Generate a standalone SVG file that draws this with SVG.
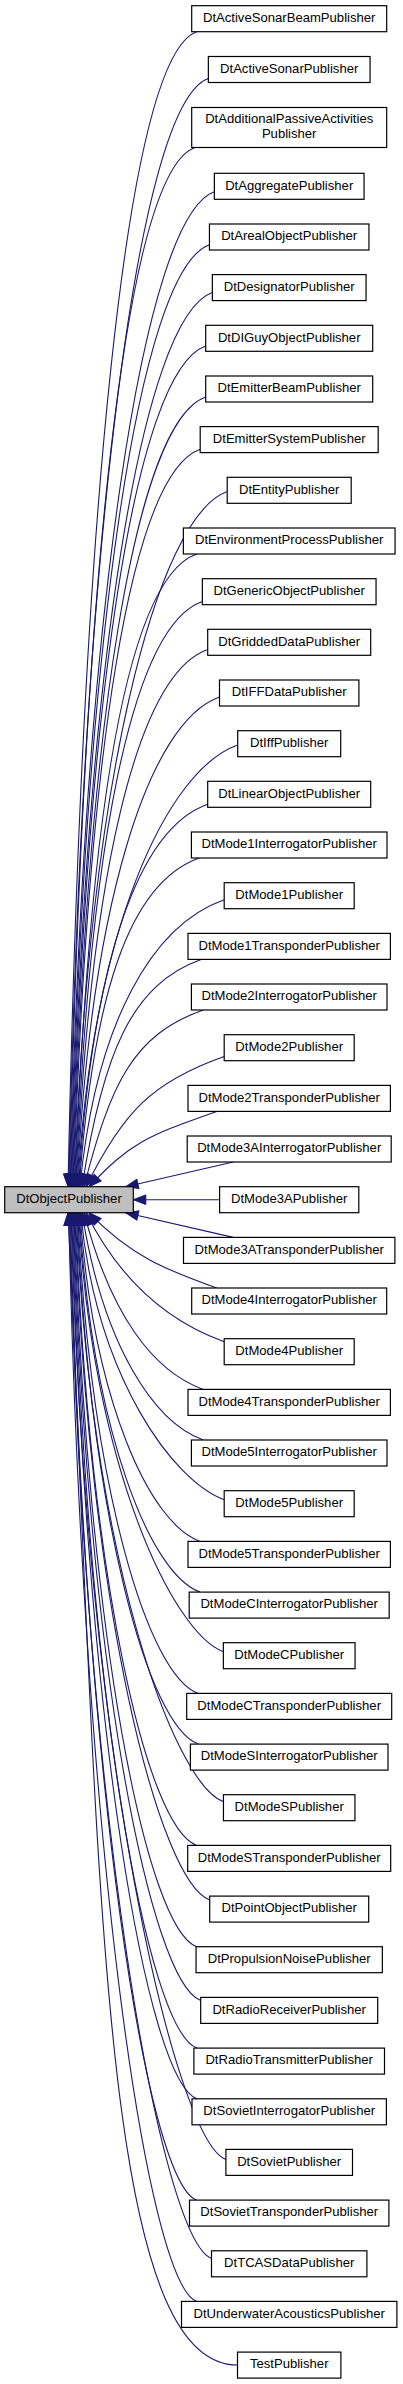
<svg xmlns="http://www.w3.org/2000/svg" width="403" height="2384" viewBox="0 0 403 2384">
<style>
.node rect{fill:#fff;stroke:#000;stroke-width:1.2}
.node.root rect{fill:#bfbfbf}
.node text{font-family:"Liberation Sans",Arial,Helvetica,sans-serif;font-size:13.1px;text-anchor:middle;fill:#000}
.edge{fill:none;stroke:#191970;stroke-width:1.1;marker-start:url(#arr)}
</style>
<defs>
<marker id="arr" markerUnits="userSpaceOnUse" markerWidth="14" markerHeight="12" refX="13" refY="6" orient="auto-start-reverse" overflow="visible">
<path d="M0.5,1.2 L13,6 L0.5,10.8 z" fill="#191970" stroke="#191970" stroke-width="1"/>
</marker>
</defs>
<rect width="403" height="2384" fill="#fff"/>
<g id="connectors">
<path class="edge" d="M68,1186.7 C82,516.8 125.7,56.7 196.7,31.7"/>
<path class="edge" d="M68.7,1186.7 C82.7,543.9 137.3,103.5 208.3,78.5"/>
<path class="edge" d="M69.4,1186.7 C83.4,584 124,172.5 195,147.5"/>
<path class="edge" d="M70.1,1186.7 C84.1,609.6 143.3,216.7 214.3,191.7"/>
<path class="edge" d="M70.8,1186.7 C84.8,640.3 138.5,269.7 209.5,244.7"/>
<path class="edge" d="M71.5,1186.7 C85.5,668.1 141.3,317.6 212.3,292.6"/>
<path class="edge" d="M72.2,1186.7 C86.2,699.1 134.7,371 205.7,346"/>
<path class="edge" d="M72.9,1186.7 C86.9,728.7 134.7,422 205.7,397"/>
<path class="edge" d="M73.6,1186.7 C87.6,759 129.3,474.3 200.3,449.3"/>
<path class="edge" d="M74.3,1186.7 C88.3,783.5 156.3,516.6 227.3,491.6"/>
<path class="edge" d="M75,1186.7 C89,819.7 125.7,579 196.7,554"/>
<path class="edge" d="M75.7,1186.7 C89.7,847.2 131.3,626.4 202.3,601.4"/>
<path class="edge" d="M76.4,1186.7 C90.4,875.1 136.7,674.5 207.7,649.5"/>
<path class="edge" d="M77.1,1186.7 C91.1,902.7 148.5,722 219.5,697"/>
<path class="edge" d="M77.8,1186.7 C91.8,930.5 166.7,770 237.7,745"/>
<path class="edge" d="M78.5,1186.7 C92.5,964.9 136.7,829.3 207.7,804.3"/>
<path class="edge" d="M79.2,1186.7 C93.2,996.1 128.3,883 199.3,858"/>
<path class="edge" d="M79.9,1186.7 C96.2,1020.2 153.2,924.7 224.2,899.7"/>
<path class="edge" d="M82,1186.7 C102.7,1054.8 130.7,984.3 201.7,959.3"/>
<path class="edge" d="M84,1186.7 C110.6,1084.2 132.3,1035 203.3,1010"/>
<path class="edge" d="M86,1186.7 C123.2,1111.1 153.2,1081.4 224.2,1056.4"/>
<path class="edge" d="M89,1186.7 C130.5,1143 145.7,1136.4 216.7,1111.4"/>
<path class="edge" d="M125.7,1186.7 L233.3,1162"/>
<path class="edge" d="M133.3,1199.7 L219.6,1199.7"/>
<path class="edge" d="M125.7,1212.7 L233.3,1237.4"/>
<path class="edge" d="M89,1212.7 C130.5,1256.4 166.7,1270 216.7,1288"/>
<path class="edge" d="M86,1212.7 C123.4,1287.5 174.2,1323.7 224.2,1341.7"/>
<path class="edge" d="M84,1212.7 C110.6,1315.2 153.3,1371.4 203.3,1389.4"/>
<path class="edge" d="M82,1212.7 C103,1344.5 153.3,1422 203.3,1440"/>
<path class="edge" d="M80.6,1212.7 C96.8,1379.2 174.2,1481.7 224.2,1499.7"/>
<path class="edge" d="M79.9,1212.7 C93.9,1403.3 150,1523.4 200,1541.4"/>
<path class="edge" d="M79.1,1212.7 C93.1,1432.7 150,1574.1 200,1592.1"/>
<path class="edge" d="M78.4,1212.7 C92.4,1467.3 173.4,1633.7 223.4,1651.7"/>
<path class="edge" d="M77.6,1212.7 C91.6,1491.5 148.3,1675.4 198.3,1693.4"/>
<path class="edge" d="M76.9,1212.7 C90.9,1520.9 148.3,1726.1 198.3,1744.1"/>
<path class="edge" d="M76.2,1212.7 C90.2,1554.3 173.5,1783.7 223.5,1801.7"/>
<path class="edge" d="M75.4,1212.7 C89.4,1579.7 146.7,1827.4 196.7,1845.4"/>
<path class="edge" d="M74.7,1212.7 C88.7,1611.3 159.7,1882 209.7,1900"/>
<path class="edge" d="M73.9,1212.7 C87.9,1638.4 146.7,1928.7 196.7,1946.7"/>
<path class="edge" d="M73.2,1212.7 C87.2,1669.6 150.7,1982.4 200.7,2000.4"/>
<path class="edge" d="M72.5,1212.7 C86.5,1697.2 147,2030.1 197,2048.1"/>
<path class="edge" d="M71.7,1212.7 C85.7,1726.6 147,2080.8 197,2098.8"/>
<path class="edge" d="M71,1212.7 C85,1761.8 175.9,2141.4 225.9,2159.4"/>
<path class="edge" d="M70.2,1212.7 C84.2,1785.3 146.7,2182.1 196.7,2200.1"/>
<path class="edge" d="M69.5,1212.7 C83.5,1819.1 161.5,2240.3 211.5,2258.3"/>
<path class="edge" d="M68.7,1212.7 C82.7,1844.1 146.7,2283.4 196.7,2301.4"/>
<path class="edge" d="M68,1212.7 C100,1881 100,2365 237.5,2365"/>
</g>
<g id="DtObjectPublisher" class="node root"><rect x="4.7" y="1186.7" width="128.6" height="26"/><text x="69" y="1203">DtObjectPublisher</text></g>
<g id="n1" class="node"><rect x="191.7" y="5.7" width="195" height="26"/><text x="289.2" y="22">DtActiveSonarBeamPublisher</text></g>
<g id="n2" class="node"><rect x="208.35" y="56.5" width="161.7" height="26"/><text x="289.2" y="72.8">DtActiveSonarPublisher</text></g>
<g id="n3" class="node"><rect x="191.7" y="107.5" width="195" height="40"/><text x="289.2" y="123.3">DtAdditionalPassiveActivities</text><text x="289.2" y="138.3">Publisher</text></g>
<g id="n4" class="node"><rect x="214.35" y="173.3" width="149.7" height="26"/><text x="289.2" y="189.6">DtAggregatePublisher</text></g>
<g id="n5" class="node"><rect x="209.45" y="224" width="159.5" height="26"/><text x="289.2" y="240.3">DtArealObjectPublisher</text></g>
<g id="n6" class="node"><rect x="212.35" y="274.6" width="153.7" height="26"/><text x="289.2" y="290.9">DtDesignatorPublisher</text></g>
<g id="n7" class="node"><rect x="205.7" y="325.3" width="167" height="26"/><text x="289.2" y="341.6">DtDIGuyObjectPublisher</text></g>
<g id="n8" class="node"><rect x="205.7" y="376" width="167" height="26"/><text x="289.2" y="392.3">DtEmitterBeamPublisher</text></g>
<g id="n9" class="node"><rect x="200.2" y="426.6" width="178" height="26"/><text x="289.2" y="442.9">DtEmitterSystemPublisher</text></g>
<g id="n10" class="node"><rect x="227.2" y="477.3" width="124" height="26"/><text x="289.2" y="493.6">DtEntityPublisher</text></g>
<g id="n11" class="node"><rect x="183.35" y="528" width="211.7" height="26"/><text x="289.2" y="544.3">DtEnvironmentProcessPublisher</text></g>
<g id="n12" class="node"><rect x="202.35" y="578.7" width="173.7" height="26"/><text x="289.2" y="595">DtGenericObjectPublisher</text></g>
<g id="n13" class="node"><rect x="207.7" y="629.3" width="163" height="26"/><text x="289.2" y="645.6">DtGriddedDataPublisher</text></g>
<g id="n14" class="node"><rect x="219.5" y="680" width="139.4" height="26"/><text x="289.2" y="696.3">DtIFFDataPublisher</text></g>
<g id="n15" class="node"><rect x="237.7" y="730.7" width="103" height="26"/><text x="289.2" y="747">DtIffPublisher</text></g>
<g id="n16" class="node"><rect x="207.7" y="781.3" width="163" height="26"/><text x="289.2" y="797.6">DtLinearObjectPublisher</text></g>
<g id="n17" class="node"><rect x="191.4" y="832" width="195.6" height="26"/><text x="289.2" y="848.3">DtMode1InterrogatorPublisher</text></g>
<g id="n18" class="node"><rect x="224.2" y="882.7" width="130" height="26"/><text x="289.2" y="899">DtMode1Publisher</text></g>
<g id="n19" class="node"><rect x="188" y="933.4" width="202.4" height="26"/><text x="289.2" y="949.7">DtMode1TransponderPublisher</text></g>
<g id="n20" class="node"><rect x="191.4" y="984" width="195.6" height="26"/><text x="289.2" y="1000.3">DtMode2InterrogatorPublisher</text></g>
<g id="n21" class="node"><rect x="224.2" y="1034.7" width="130" height="26"/><text x="289.2" y="1051">DtMode2Publisher</text></g>
<g id="n22" class="node"><rect x="188" y="1085.4" width="202.4" height="26"/><text x="289.2" y="1101.7">DtMode2TransponderPublisher</text></g>
<g id="n23" class="node"><rect x="187.2" y="1136" width="204" height="26"/><text x="289.2" y="1152.3">DtMode3AInterrogatorPublisher</text></g>
<g id="n24" class="node"><rect x="219.6" y="1186.7" width="139.2" height="26"/><text x="289.2" y="1203">DtMode3APublisher</text></g>
<g id="n25" class="node"><rect x="183.5" y="1237.4" width="211.4" height="26"/><text x="289.2" y="1253.7">DtMode3ATransponderPublisher</text></g>
<g id="n26" class="node"><rect x="191.7" y="1288" width="195" height="26"/><text x="289.2" y="1304.3">DtMode4InterrogatorPublisher</text></g>
<g id="n27" class="node"><rect x="224.2" y="1338.7" width="130" height="26"/><text x="289.2" y="1355">DtMode4Publisher</text></g>
<g id="n28" class="node"><rect x="188" y="1389.4" width="202.4" height="26"/><text x="289.2" y="1405.7">DtMode4TransponderPublisher</text></g>
<g id="n29" class="node"><rect x="191.4" y="1440" width="195.6" height="26"/><text x="289.2" y="1456.3">DtMode5InterrogatorPublisher</text></g>
<g id="n30" class="node"><rect x="224.2" y="1490.7" width="130" height="26"/><text x="289.2" y="1507">DtMode5Publisher</text></g>
<g id="n31" class="node"><rect x="188" y="1541.4" width="202.4" height="26"/><text x="289.2" y="1557.7">DtMode5TransponderPublisher</text></g>
<g id="n32" class="node"><rect x="189.2" y="1592.1" width="200" height="26"/><text x="289.2" y="1608.4">DtModeCInterrogatorPublisher</text></g>
<g id="n33" class="node"><rect x="223.35" y="1642.7" width="131.7" height="26"/><text x="289.2" y="1659">DtModeCPublisher</text></g>
<g id="n34" class="node"><rect x="186.7" y="1693.4" width="205" height="26"/><text x="289.2" y="1709.7">DtModeCTransponderPublisher</text></g>
<g id="n35" class="node"><rect x="190.4" y="1744.1" width="197.6" height="26"/><text x="289.2" y="1760.4">DtModeSInterrogatorPublisher</text></g>
<g id="n36" class="node"><rect x="223.45" y="1794.7" width="131.5" height="26"/><text x="289.2" y="1811">DtModeSPublisher</text></g>
<g id="n37" class="node"><rect x="187.7" y="1845.4" width="203" height="26"/><text x="289.2" y="1861.7">DtModeSTransponderPublisher</text></g>
<g id="n38" class="node"><rect x="209.7" y="1896.1" width="159" height="26"/><text x="289.2" y="1912.4">DtPointObjectPublisher</text></g>
<g id="n39" class="node"><rect x="196.05" y="1946.7" width="186.3" height="26"/><text x="289.2" y="1963">DtPropulsionNoisePublisher</text></g>
<g id="n40" class="node"><rect x="200.7" y="1997.4" width="177" height="26"/><text x="289.2" y="2013.7">DtRadioReceiverPublisher</text></g>
<g id="n41" class="node"><rect x="193.9" y="2048.1" width="190.6" height="26"/><text x="289.2" y="2064.4">DtRadioTransmitterPublisher</text></g>
<g id="n42" class="node"><rect x="192" y="2098.8" width="194.4" height="26"/><text x="289.2" y="2115.1">DtSovietInterrogatorPublisher</text></g>
<g id="n43" class="node"><rect x="225.9" y="2149.4" width="126.6" height="26"/><text x="289.2" y="2165.7">DtSovietPublisher</text></g>
<g id="n44" class="node"><rect x="189.5" y="2200.1" width="199.4" height="26"/><text x="289.2" y="2216.4">DtSovietTransponderPublisher</text></g>
<g id="n45" class="node"><rect x="211.5" y="2250.8" width="155.4" height="26"/><text x="289.2" y="2267.1">DtTCASDataPublisher</text></g>
<g id="n46" class="node"><rect x="181.5" y="2301.4" width="215.4" height="26"/><text x="289.2" y="2317.7">DtUnderwaterAcousticsPublisher</text></g>
<g id="n47" class="node"><rect x="237.5" y="2352.1" width="103.4" height="26"/><text x="289.2" y="2368.4">TestPublisher</text></g>
</svg>
